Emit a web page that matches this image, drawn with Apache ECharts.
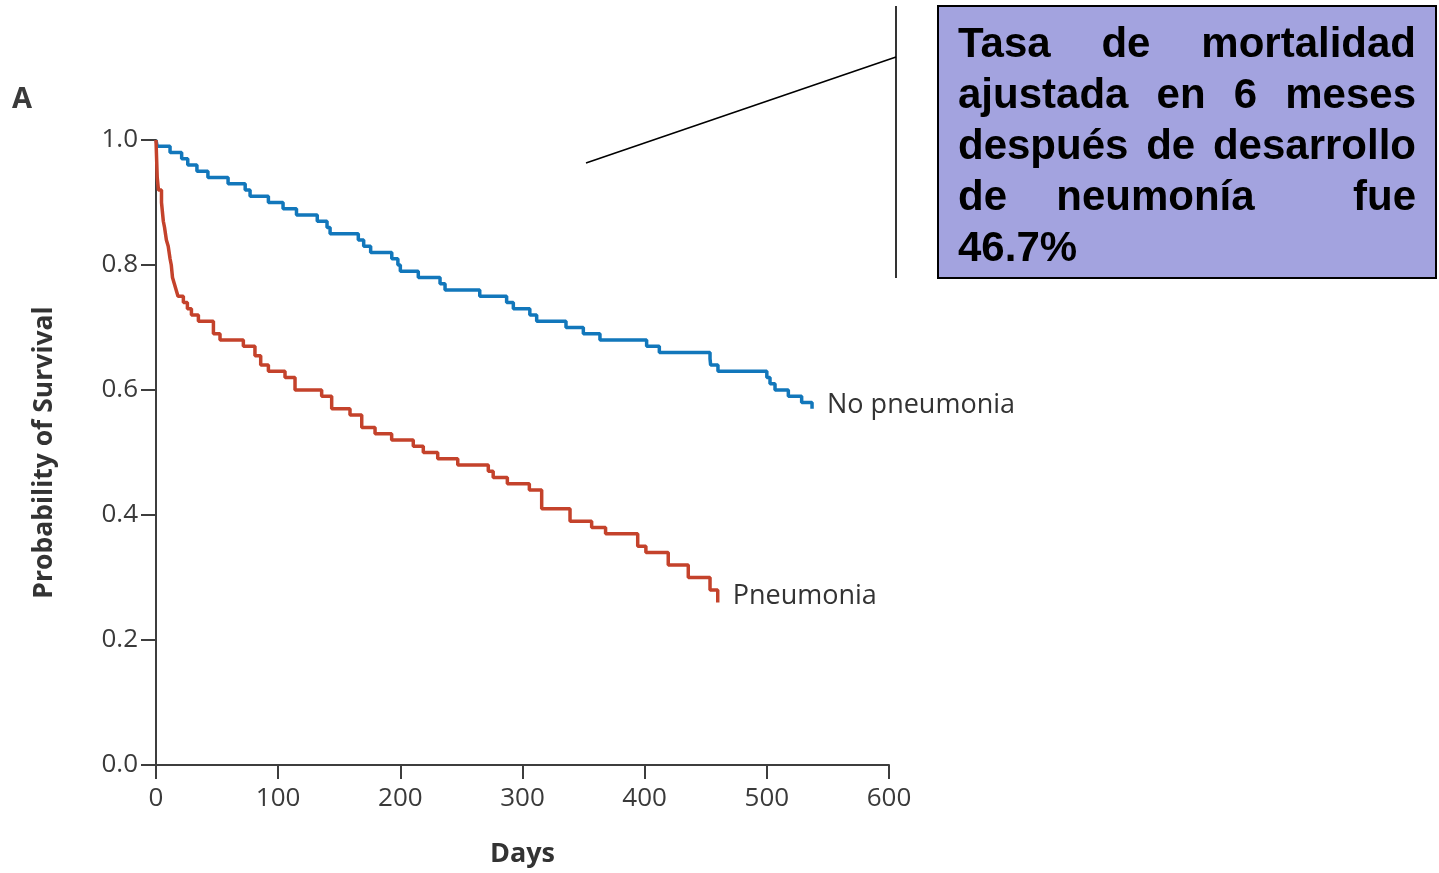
<!DOCTYPE html>
<html>
<head>
<meta charset="utf-8">
<script src="https://cdn.jsdelivr.net/npm/echarts@6/dist/echarts.min.js"></script>
<style>
  html, body { margin: 0; padding: 0; background: #ffffff; }
  #chart { width: 1439px; height: 873px; }
</style>
</head>
<body>
<div id="chart"></div>
<script>
// Kaplan-Meier survival estimates: day of each step and survival after it
const daysNoPneumonia = [0, 1, 11.5, 21, 26, 33.5, 42.5, 59, 73, 77, 92, 104, 115, 132, 140, 142.5,
  165.6, 170, 175.7, 193, 198, 200, 214.7, 232.5, 236.6, 265, 287, 292.5, 306, 311.6, 335.6,
  349.8, 363.4, 401.6, 412, 453.5, 454, 460, 500, 502.6, 506.7, 517.6, 528.5, 537];
const survNoPneumonia = [1.0, 0.99, 0.98, 0.97, 0.96, 0.95, 0.94, 0.93, 0.92, 0.91, 0.90, 0.89, 0.88, 0.87, 0.86, 0.85,
  0.84, 0.83, 0.82, 0.81, 0.80, 0.79, 0.78, 0.77, 0.76, 0.75, 0.74, 0.73, 0.72, 0.71, 0.70,
  0.69, 0.68, 0.67, 0.66, 0.65, 0.64, 0.63, 0.62, 0.61, 0.60, 0.59, 0.58, 0.57];

const daysPneumonia = [0, 0.5, 1, 2, 4.5, 6, 7, 8.5, 10, 11.5, 12.5, 13.5, 15, 16.5, 18, 22.4, 25.7, 29,
  34.7, 47, 52.4, 71.5, 81, 85.7, 92, 105.6, 113.8, 135.6, 143.8, 158.8, 168.4, 179.3, 192.9,
  210.6, 218.8, 230.6, 247, 272, 276, 287.6, 305.6, 315.7, 338.9, 356.6, 368, 394.3, 401,
  419.3, 435.7, 453.5, 459.8];
const survPneumonia = [1.0, 0.97, 0.94, 0.92, 0.90, 0.87, 0.86, 0.84, 0.83, 0.81, 0.80, 0.78, 0.77, 0.76, 0.75, 0.74, 0.73, 0.72,
  0.71, 0.69, 0.68, 0.67, 0.655, 0.64, 0.63, 0.62, 0.60, 0.59, 0.57, 0.56, 0.54, 0.53, 0.52,
  0.51, 0.50, 0.49, 0.48, 0.47, 0.46, 0.45, 0.44, 0.41, 0.39, 0.38, 0.37, 0.35, 0.34,
  0.32, 0.30, 0.28, 0.26];

const xTicks = [0, 100, 200, 300, 400, 500, 600];
const yTicks = [0.0, 0.2, 0.4, 0.6, 0.8, 1.0];

const calloutLines = [
  'Tasa de mortalidad',
  'ajustada en 6 meses',
  'después de desarrollo',
  'de neumonía  fue',
  '46.7%'
];

const zip = (xs, ys) => xs.map((x, i) => [x, ys[i]]);

const axisColor = '#3d3d3d';
const labelFont = '"Open Sans", "Noto Sans", sans-serif';

// Justified text for the callout box: extra width is shared among the spaces
const boxFont = 'bold 42px "Liberation Sans", Arial, sans-serif';
const boxLeft = 958, boxRight = 1416, firstLineY = 45, lineStep = 51;
const measureCtx = document.createElement('canvas').getContext('2d');
measureCtx.font = boxFont;
const calloutText = [];
calloutLines.forEach((line, li) => {
  const y = firstLineY + li * lineStep;
  const isLast = li === calloutLines.length - 1;
  if (isLast) {
    calloutText.push({ type: 'text', style: { text: line, x: boxLeft, y, font: boxFont, fill: '#000', textAlign: 'left', textVerticalAlign: 'middle' } });
    return;
  }
  const tokens = line.split(' ');
  const words = tokens.filter(t => t.length);
  const nSpaces = tokens.length - 1;
  const wordsWidth = words.reduce((s, w) => s + measureCtx.measureText(w).width, 0);
  const spaceW = (boxRight - boxLeft - wordsWidth) / nSpaces;
  let x = boxLeft;
  tokens.forEach((t, ti) => {
    if (t.length) {
      calloutText.push({ type: 'text', style: { text: t, x, y, font: boxFont, fill: '#000', textAlign: 'left', textVerticalAlign: 'middle' } });
      x += measureCtx.measureText(t).width;
    }
    if (ti < tokens.length - 1) x += spaceW;
  });
});

const chart = echarts.init(document.getElementById('chart'), null, { renderer: 'canvas' });

chart.setOption({
  animation: false,
  backgroundColor: '#ffffff',
  grid: { left: 156, top: 140, width: 733, height: 627, containLabel: false },
  xAxis: {
    type: 'value',
    min: xTicks[0],
    max: xTicks[xTicks.length - 1],
    interval: 100,
    name: 'Days',
    nameLocation: 'middle',
    nameGap: 76,
    nameTextStyle: { fontFamily: labelFont, fontWeight: 'bold', fontSize: 27, color: '#333' },
    axisLine: { show: true, lineStyle: { color: axisColor, width: 2 } },
    axisTick: { show: true, length: 14, lineStyle: { color: axisColor, width: 2 } },
    axisLabel: { margin: 21, fontFamily: labelFont, fontSize: 26, color: '#3a3a3a' },
    splitLine: { show: false }
  },
  yAxis: {
    type: 'value',
    min: yTicks[0],
    max: yTicks[yTicks.length - 1],
    interval: 0.2,
    name: 'Probability of Survival',
    nameLocation: 'middle',
    nameGap: 98,
    nameRotate: 90,
    nameTextStyle: { fontFamily: labelFont, fontWeight: 'bold', fontSize: 26.5, color: '#333' },
    axisLine: { show: true, lineStyle: { color: axisColor, width: 2 } },
    axisTick: { show: true, length: 15, lineStyle: { color: axisColor, width: 2 } },
    axisLabel: { margin: 18, fontFamily: labelFont, fontSize: 26, color: '#3a3a3a', formatter: v => v.toFixed(1) },
    splitLine: { show: false }
  },
  series: [
    {
      name: 'No pneumonia',
      type: 'line',
      step: 'end',
      symbol: 'none',
      data: zip(daysNoPneumonia, survNoPneumonia),
      lineStyle: { color: '#1277bb', width: 3.5 },
      itemStyle: { color: '#1277bb' },
      endLabel: { show: true, formatter: '{a}', distance: 15, offset: [0, -3], fontFamily: labelFont, fontSize: 27, color: '#333' }
    },
    {
      name: 'Pneumonia',
      type: 'line',
      step: 'end',
      symbol: 'none',
      data: zip(daysPneumonia, survPneumonia),
      lineStyle: { color: '#c4422b', width: 3.5 },
      itemStyle: { color: '#c4422b' },
      endLabel: { show: true, formatter: '{a}', distance: 15, offset: [0, -6], fontFamily: labelFont, fontSize: 27, color: '#333' }
    }
  ],
  graphic: [
    { type: 'text', style: { text: 'A', x: 12, y: 100, font: 'bold 29px "Open Sans", sans-serif', fill: '#3a3a3a', textVerticalAlign: 'middle' } },
    { type: 'line', shape: { x1: 586, y1: 163, x2: 896, y2: 57 }, style: { stroke: '#000', lineWidth: 1.6 } },
    { type: 'line', shape: { x1: 896, y1: 6, x2: 896, y2: 278 }, style: { stroke: '#000', lineWidth: 1.6 } },
    { type: 'rect', shape: { x: 938, y: 6, width: 498, height: 272 }, style: { fill: '#a3a3df', stroke: '#000', lineWidth: 2 } }
  ].concat(calloutText)
});
</script>
</body>
</html>
